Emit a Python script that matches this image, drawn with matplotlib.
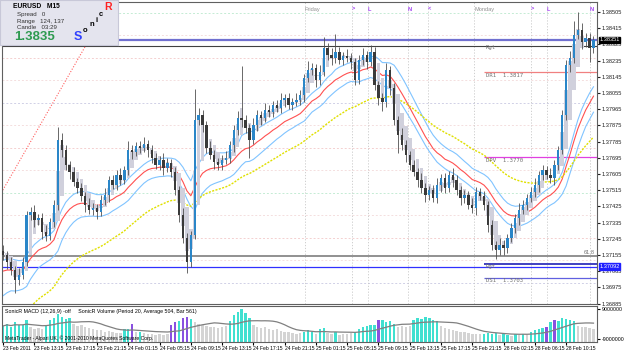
import numpy as np
import pandas as pd
import matplotlib

matplotlib.use("Agg")
import matplotlib.pyplot as plt
from matplotlib.transforms import blended_transform_factory

plt.rcParams["font.family"] = ["Liberation Sans", "DejaVu Sans"]

first_open = 1.37180
closes = [
    1.37155, 1.37116, 1.37072, 1.37016, 1.37044, 1.37116, 1.37377, 1.37394, 1.37350, 1.37361,
    1.37283, 1.37261, 1.37339, 1.37433, 1.37794, 1.37739, 1.37655, 1.37616, 1.37561, 1.37527,
    1.37483, 1.37433, 1.37405, 1.37416, 1.37394, 1.37461, 1.37489, 1.37572, 1.37544, 1.37600,
    1.37572, 1.37627, 1.37739, 1.37727, 1.37761, 1.37750, 1.37772, 1.37739, 1.37694, 1.37655,
    1.37683, 1.37639, 1.37666, 1.37616, 1.37516, 1.37377, 1.37250, 1.37116, 1.37266, 1.37905,
    1.37933, 1.37878, 1.37750, 1.37711, 1.37672, 1.37655, 1.37683, 1.37694, 1.37766, 1.37850,
    1.37916, 1.37905, 1.37861, 1.37794, 1.37877, 1.37933, 1.37916, 1.37961, 1.37950, 1.37989,
    1.37972, 1.38016, 1.38028, 1.37989, 1.38005, 1.38016, 1.38044, 1.38139, 1.38183, 1.38194,
    1.38128, 1.38172, 1.38305, 1.38266, 1.38250, 1.38283, 1.38239, 1.38261, 1.38250, 1.38228,
    1.38128, 1.38239, 1.38266, 1.38228, 1.38283, 1.38100, 1.38028, 1.38005, 1.38183, 1.38083,
    1.37905, 1.37822, 1.37766, 1.37711, 1.37655, 1.37616, 1.37572, 1.37527, 1.37489, 1.37516,
    1.37472, 1.37544, 1.37583, 1.37527, 1.37600, 1.37572, 1.37516, 1.37472, 1.37489, 1.37433,
    1.37416, 1.37505, 1.37483, 1.37433, 1.37322, 1.37211, 1.37183, 1.37211, 1.37194, 1.37250,
    1.37305, 1.37361, 1.37405, 1.37433, 1.37472, 1.37505, 1.37544, 1.37600, 1.37627, 1.37600,
    1.37583, 1.37655, 1.37739, 1.37933, 1.38211, 1.38250, 1.38378, 1.38405, 1.38339, 1.38361,
    1.38305, 1.38351,
]
# wick lengths in pips beyond the candle body
up_wick = [
    3, 2, 3, 2, 4, 3, 2, 3, 4, 2,
    3, 4, 2, 3, 7, 4, 3, 2, 3, 2,
    3, 2, 4, 3, 2, 3, 4, 2, 3, 3,
    4, 2, 5, 3, 2, 3, 4, 2, 3, 3,
    2, 4, 3, 2, 3, 2, 4, 3, 2, 17,
    4, 3, 2, 4, 3, 2, 3, 4, 2, 3,
    4, 29, 3, 2, 4, 3, 2, 4, 3, 2,
    3, 4, 2, 3, 2, 4, 3, 2, 5, 3,
    2, 4, 6, 3, 4, 10, 3, 2, 4, 3,
    2, 3, 4, 2, 4, 3, 2, 3, 4, 2,
    3, 2, 4, 3, 2, 3, 2, 4, 3, 2,
    3, 4, 2, 3, 2, 4, 3, 2, 3, 2,
    4, 3, 2, 3, 2, 3, 2, 4, 3, 2,
    3, 2, 4, 3, 2, 3, 4, 2, 3, 2,
    4, 3, 2, 3, 3, 4, 8, 10, 4, 3,
    3, 2,
]
dn_wick = [
    3, 4, 3, 7, 3, 2, 2, 3, 4, 3,
    4, 3, 2, 3, 3, 4, 3, 4, 2, 3,
    3, 4, 2, 3, 4, 2, 3, 4, 2, 3,
    3, 2, 3, 4, 2, 3, 2, 4, 3, 2,
    3, 4, 2, 3, 3, 4, 3, 6, 3, 2,
    3, 4, 3, 2, 4, 3, 3, 2, 3, 4,
    3, 4, 3, 10, 2, 3, 4, 2, 3, 3,
    2, 3, 4, 2, 3, 2, 3, 4, 2, 3,
    4, 3, 2, 3, 4, 3, 2, 3, 2, 4,
    3, 2, 3, 4, 2, 3, 4, 5, 3, 4,
    3, 10, 3, 4, 3, 2, 4, 3, 4, 3,
    2, 3, 4, 3, 2, 4, 3, 4, 3, 2,
    3, 4, 2, 3, 4, 3, 5, 3, 4, 3,
    2, 3, 4, 2, 3, 2, 3, 4, 3, 2,
    3, 4, 3, 2, 3, 4, 3, 2, 4, 3,
    8, 3,
]
volume = [
    460, 520, 430, 560, 480, 500, 620, 420, 380, 400,
    360, 500, 640, 700, 800, 720, 660, 700, 520, 460,
    480, 420, 400, 380, 350, 330, 300, 310, 280, 260,
    270, 360, 380, 520, 300, 280, 250, 240, 220, 210,
    230, 200, 240, 480, 560, 600, 680, 720, 650, 560,
    520, 480, 460, 420, 440, 400, 420, 450, 600, 760,
    860, 940, 820, 700, 480, 440, 400, 420, 380, 350,
    360, 320, 300, 280, 260, 240, 250, 300, 340, 280,
    240, 380, 400, 260, 220, 300, 200, 230, 240, 260,
    300, 380, 420, 450, 500, 480, 620, 640, 560, 600,
    520, 440, 460, 420, 450, 640, 700, 660, 720, 680,
    640, 600, 460, 400, 380, 340, 320, 300, 280, 260,
    240, 220, 230, 240, 260, 220, 250, 200, 230, 200,
    180, 220, 200, 240, 210, 300, 340, 380, 400, 440,
    560, 640, 600, 680, 660, 640, 600, 460, 420, 440,
    400, 380,
]
# t = turquoise, g = gray, p = purple volume bar
vol_kind = "".join([
    "tttttttggg", "gtttttttgg", "gggggggggg", "gttpgtgggg",
    "gggpptpptg", "ggggggggtt", "ttttgggggg", "gggggggttt",
    "gttggtgggg", "ttttttpttt", "tggggttttt", "ttgggggggg",
    "gggttttgtt", "gtgtgttttp", "tptttttggg", "gg",
])

time_labels = [
    "23 Feb 2011", "23 Feb 13:15", "23 Feb 17:15", "23 Feb 21:15", "24 Feb 01:15",
    "24 Feb 05:15", "24 Feb 09:15", "24 Feb 13:15", "24 Feb 17:15", "24 Feb 21:15",
    "25 Feb 01:15", "25 Feb 05:15", "25 Feb 09:15", "25 Feb 13:15", "25 Feb 17:15",
    "25 Feb 21:15", "28 Feb 02:15", "28 Feb 06:15", "28 Feb 10:15",
]
price_ticks = [
    1.38505, 1.38415, 1.38325, 1.38235, 1.38145, 1.38055, 1.37965, 1.37875, 1.37785,
    1.37695, 1.37605, 1.37515, 1.37425, 1.37335, 1.37245, 1.37155, 1.37065, 1.36975, 1.36885,
]
# quarter-point grid levels and their colours
quarter_levels = [
    1.37000, 1.37125, 1.37250, 1.37375, 1.37500, 1.37625, 1.37750,
    1.37875, 1.38000, 1.38125, 1.38250, 1.38375, 1.38500,
]
quarter_colors = [
    "#d0d0e6", "#f4dede", "#f4d0d0", "#f4dede", "#c4ecd4", "#f4dede", "#f4d0d0",
    "#f4dede", "#d0d0e6", "#f4dede", "#f4d0d0", "#f4dede", "#c4ecd4",
]
# session markers along the top (bar index, text, colour)
sessions = [
    (77.2, "Friday", "#909090"), (89.2, ">", "#a040f0"), (93.3, "L", "#a040f0"),
    (103.5, "N", "#a040f0"), (108.7, "<", "#a040f0"), (120.5, "Monday", "#909090"),
    (135.0, ">", "#a040f0"), (139.0, "L", "#a040f0"), (150.0, "N", "#a040f0"),
]
monday_bar = 123
pivots = [("DR1", 1.3817, "#f08080"), ("DPV", 1.3770, "#e040e0"), ("DS1", 1.3703, "#6060e0")]
r_high, r_high2 = 1.38348, 1.38318
fib618, r_low, r_low2 = 1.37150, 1.37105, 1.37088
bid, low_box = 1.38351, 1.37092
trend_x, trend_y = [-0.8, 21.2], [1.37489, 1.38322]
ema_seed = {"high": 1.37116, "close": 1.37055, "low": 1.36905, "slow": 1.36739}

PIP = 0.0001


def ema(values, period, seed):
    a = 2.0 / (period + 1)
    out, e = [], seed
    for v in values:
        e += a * (v - e)
        out.append(e)
    return np.array(out)


c = np.array(closes)
o = np.concatenate([[first_open], c[:-1]])
hi = np.maximum(o, c) + np.array(up_wick) * PIP
lo = np.minimum(o, c) - np.array(dn_wick) * PIP
x = np.arange(len(c))
up = c >= o

# Heiken Ashi shadow bodies drawn behind the candles
ha_c = (o + hi + lo + c) / 4
ha_o = np.empty_like(ha_c)
ha_o[0] = (o[0] + c[0]) / 2
for i in range(1, len(c)):
    ha_o[i] = (ha_o[i - 1] + ha_c[i - 1]) / 2

ema_hi = ema(hi, 17, ema_seed["high"])
ema_lo = ema(lo, 17, ema_seed["low"])
ema_c = ema(c, 17, ema_seed["close"])
ema_slow = ema(c, 45, ema_seed["slow"])
vol_avg = pd.Series(volume).rolling(12, min_periods=1).mean()

W, H = 625, 352
fig = plt.figure(figsize=(W / 100, H / 100), dpi=100)
ax = fig.add_axes([2 / W, 1 - 304 / H, 595 / W, 302 / H])
axv = fig.add_axes([2 / W, 1 - 342 / H, 595 / W, 36 / H], sharex=ax)
FS = 4.1

for lv, col in zip(quarter_levels, quarter_colors):
    ax.axhline(lv, color=col, lw=0.7, ls=(0, (2, 2)), zorder=0)

for xs, txt, col in sessions:
    ax.axvline(xs, color="#c8c8c8", lw=0.6, ls=(0, (1.5, 2)), zorder=0)

# support / resistance and pivot levels
ax.axhline(r_high, color="#7070d0", lw=1.6, zorder=1)
ax.axhline(r_high2, color="#404040", lw=0.8, zorder=1)
ax.axhline(fib618, color="#909090", lw=1.4, zorder=1)
ax.axhline(r_low2, color="#3030ff", lw=0.9, zorder=1)
ax.hlines(r_low, monday_bar, len(c) + 5, color="#4040c0", lw=1.4, zorder=1)
for name, lv, col in pivots:
    ax.hlines(lv, monday_bar, len(c) + 5, color=col, lw=0.9, zorder=1)
    ax.text(monday_bar + 0.5, lv - 0.00004, f"{name}  {lv:.4f}", color="#707070",
            fontsize=FS, va="top", ha="left", family="DejaVu Sans Mono")
ax.text(monday_bar + 0.5, r_high2 + 0.00006, "Rgt", color="#707070", fontsize=FS, va="top",
        family="DejaVu Sans Mono")
ax.text(monday_bar + 0.5, r_low - 0.00002, "Rgt", color="#707070", fontsize=FS, va="top",
        family="DejaVu Sans Mono")
yt = blended_transform_factory(ax.transAxes, ax.transData)
ax.text(0.997, fib618 + 0.00003, "61.8", color="#707070", fontsize=FS, ha="right", va="bottom",
        transform=yt)

ax.plot(trend_x, trend_y, color="#ff6060", lw=0.8, ls=(0, (1, 1.5)), zorder=1)

# Sonic R dragon (EMA of high / close / low) and the slow trend EMA
ax.plot(x, ema_hi, color="#80c4ff", lw=0.8, zorder=2)
ax.plot(x, ema_lo, color="#80c4ff", lw=0.8, zorder=2)
ax.plot(x, ema_c, color="#ff5050", lw=0.8, zorder=2)
ax.plot(x, ema_slow, color="#e0e000", lw=1.0, ls=(0, (1.5, 1)), zorder=2)

# candles
ax.bar(x, np.maximum(np.abs(ha_c - ha_o), 0.00003), bottom=np.minimum(ha_o, ha_c), width=0.9,
       color="#d0d0dc", linewidth=0, zorder=2.5)
ax.vlines(x, lo, hi, color="#505050", lw=0.6, zorder=3)
body_lo = np.minimum(o, c)
body_h = np.maximum(np.abs(c - o), 0.00003)
ax.bar(x, body_h, bottom=body_lo, width=0.6, color=np.where(up, "#2a86c8", "#3a3a3a"),
       linewidth=0, zorder=4)

ax.set_xlim(-0.3, 151.9)
ax.set_ylim(1.36883, 1.38561)
ax.yaxis.tick_right()
ax.set_yticks(price_ticks)
ax.set_yticklabels([f"{p:.5f}" for p in price_ticks])
ax.tick_params(axis="y", labelsize=FS, length=2, pad=1.2, colors="#202020")
ax.tick_params(axis="x", bottom=False, labelbottom=False)
for s in ax.spines.values():
    s.set_color("#606060")
    s.set_linewidth(0.8)

ax.text(1.004, bid, f"{bid:.5f}", transform=yt, fontsize=FS, color="white", va="center",
        bbox=dict(boxstyle="square,pad=0.12", fc="black", ec="black"))
ax.text(1.004, low_box, f"{low_box:.5f}", transform=yt, fontsize=FS, color="white",
        va="center", bbox=dict(boxstyle="square,pad=0.12", fc="#2020ff", ec="#2020ff"))

xt = blended_transform_factory(ax.transData, ax.transAxes)
for xs, txt, col in sessions:
    ax.text(xs, 0.985, txt, transform=xt, color=col, fontsize=FS, ha="left", va="top",
            fontweight="bold" if len(txt) == 1 else "normal")

# info panel
info = fig.add_axes([0, 1 - 45 / H, 118 / W, 45 / H])
info.set_facecolor("#e4e4ee")
info.set_xticks([])
info.set_yticks([])
for s in info.spines.values():
    s.set_color("#c8c8d8")
info.set_xlim(0, 118)
info.set_ylim(45, 0)
info.text(13, 6, "EURUSD   M15", fontsize=4.8, fontweight="bold", va="center")
info.text(17, 14.5, "Spread   0", fontsize=4.4, color="#303030", va="center")
info.text(17, 21, "Range   124, 137", fontsize=4.4, color="#303030", va="center")
info.text(17, 27.5, "Candle   03:29", fontsize=4.4, color="#303030", va="center")
info.text(14, 37.5, "1.3835", fontsize=9.5, fontweight="bold", color="#2e9a50", va="center")
info.text(74, 37.5, "S", fontsize=9, fontweight="bold", color="#3040ff", va="center")
for (lx, ly), ch in zip([(83, 30), (89, 24.5), (95, 20), (99, 14.5)], "onic"):
    info.text(lx, ly, ch, fontsize=5.5, fontweight="bold", color="black", va="center")
info.text(104, 7, "R", fontsize=7.5, fontweight="bold", color="#ff2020", va="center")

# volume pane
vcol = {"t": "#40e0d0", "g": "#d4d4d4", "p": "#8a50e0"}
axv.bar(x, volume, width=0.62, color=[vcol[k] for k in vol_kind], linewidth=0)
axv.plot(x, vol_avg, color="#808080", lw=0.9)
axv.set_ylim(0, 1030)
axv.yaxis.tick_right()
axv.set_yticks([930, 86])
axv.set_yticklabels(["9000000", "-9000000"])
axv.tick_params(axis="y", labelsize=3.8, length=2, pad=1.2)
axv.set_xticks(np.arange(0, 152, 8))
axv.set_xticklabels(time_labels, ha="left")
axv.tick_params(axis="x", labelsize=3.6, length=2, pad=1)
for s in axv.spines.values():
    s.set_color("#606060")
    s.set_linewidth(0.8)
axv.text(0.005, 0.93, "SonicR MACD (12,26,9) -off     SonicR Volume (Period 20, Average 504, Bar 561)",
         transform=axv.transAxes, fontsize=3.8, va="top")
axv.text(0.005, 0.04, "MetaTrader - Alpari UK, \u00a9 2001-2010 MetaQuotes Software Corp.",
         transform=axv.transAxes, fontsize=3.6, va="bottom")

fig.savefig("out.png", dpi=100)
